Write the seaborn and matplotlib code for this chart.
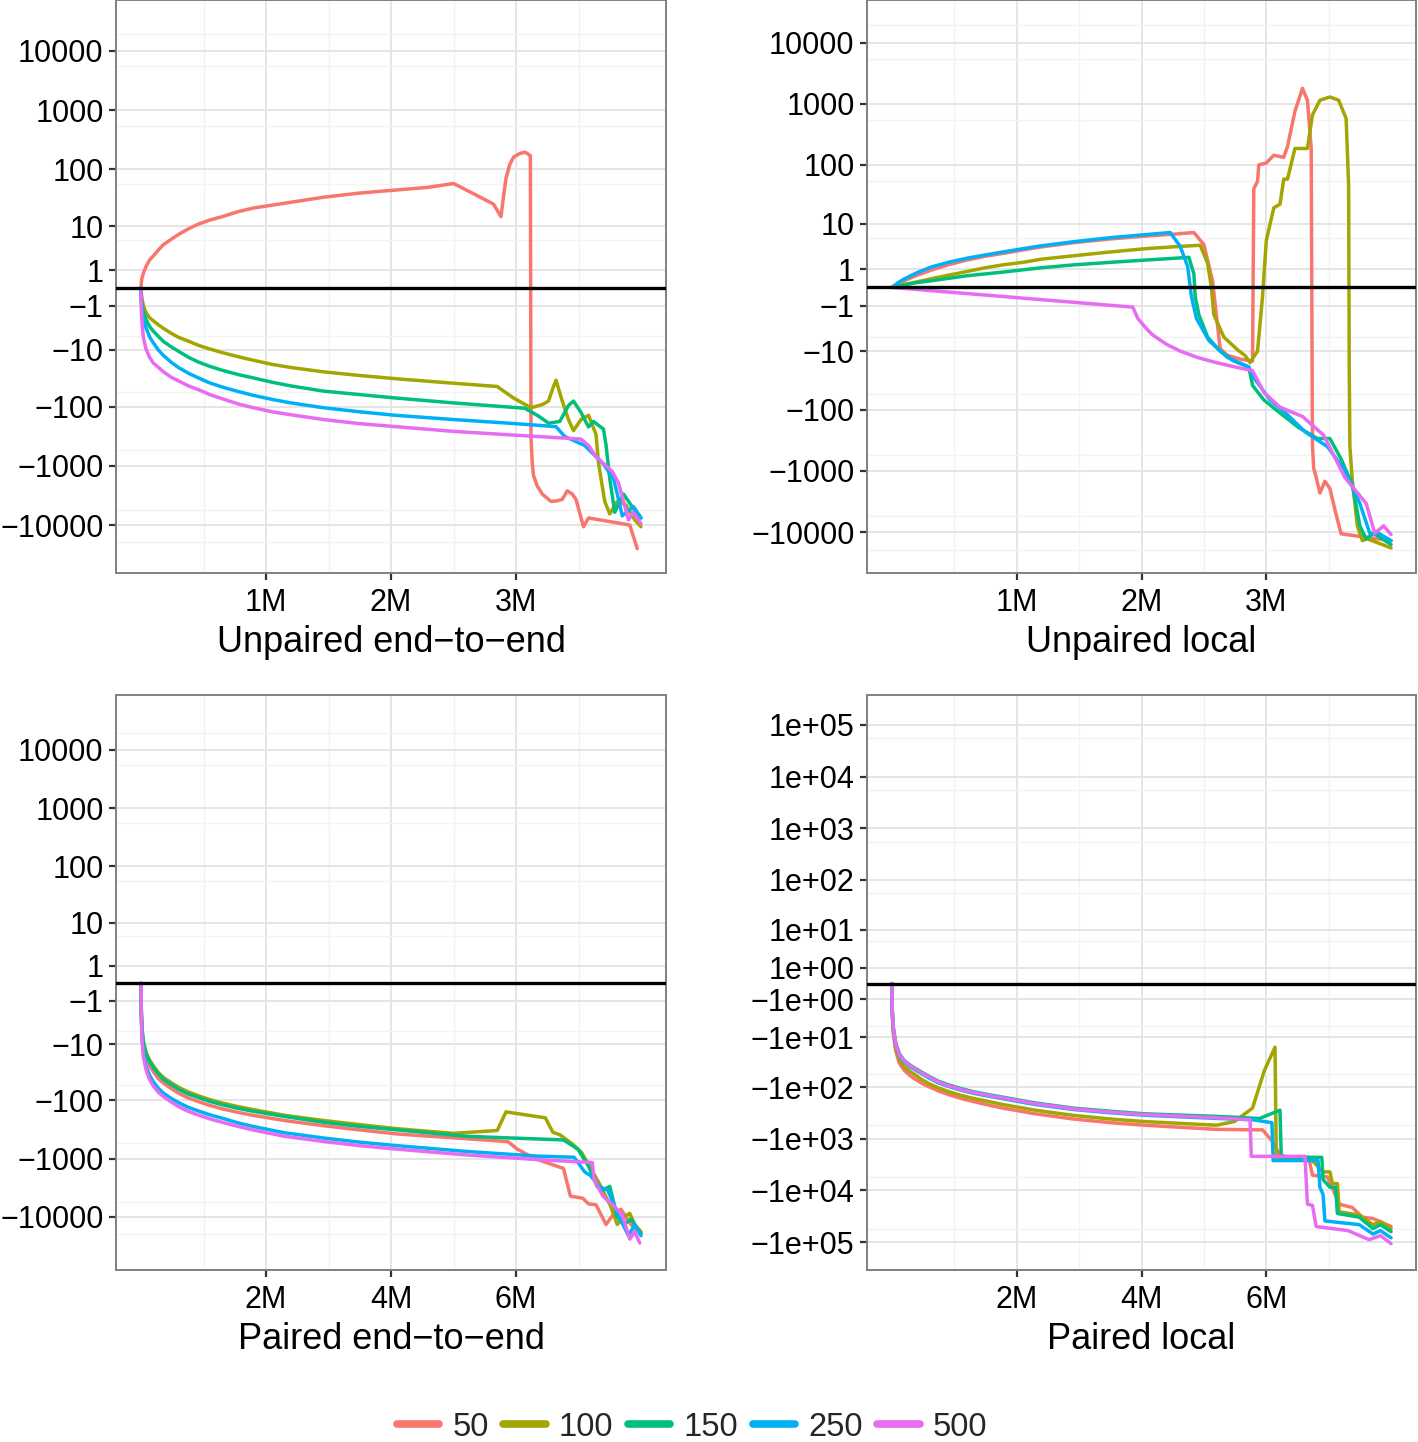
import numpy as np
import pandas as pd
import matplotlib
matplotlib.use('Agg')
import matplotlib.pyplot as plt
from matplotlib.lines import Line2D
import seaborn as sns

# ---------------- data (x in millions of reads, y = score difference) ----------------
lengths = ['50', '100', '150', '250', '500']
colors = ['#F8766D', '#A3A500', '#00BF7D', '#00B0F6', '#E76BF3']

# Unpaired end-to-end
ue_x50 = [0, 0.005, 0.02, 0.04, 0.07, 0.1, 0.14, 0.18, 0.24, 0.3, 0.38, 0.46, 0.55, 0.65, 0.78, 0.9, 1.05,
          1.2, 1.46, 1.75, 2.04, 2.3, 2.5, 2.65, 2.82, 2.88, 2.9, 2.92, 2.95, 2.98, 3.03, 3.07, 3.09, 3.11,
          3.115, 3.12, 3.13, 3.14, 3.17, 3.21, 3.28, 3.33, 3.37, 3.41, 3.45, 3.48, 3.54, 3.58, 3.91, 3.97]
ue_y50 = [0, 0.4, 0.8, 1.3, 2.0, 2.5, 3.4, 4.4, 5.6, 7, 9, 11, 13, 15, 18.5, 21.4, 24,
          27, 33, 39, 44, 49, 57, 39, 25, 15, 34, 70, 120, 160, 185, 195, 185, 173,
          170, -340, -900, -1450, -2200, -3000, -4000, -3900, -3700, -2650, -3000, -3700, -10700, -7600,
          -10000, -25000]
ue_x100 = [0, 0.003, 0.01, 0.02, 0.04, 0.07, 0.1, 0.14, 0.18, 0.24, 0.3, 0.38, 0.46, 0.55, 0.65, 0.78, 0.9,
           1.05, 1.2, 1.46, 1.75, 2.04, 2.4, 2.85, 2.98, 3.12, 3.21, 3.26, 3.3, 3.32, 3.37, 3.42, 3.46,
           3.52, 3.58, 3.64, 3.66, 3.71, 3.75, 3.81, 3.88, 3.95, 4.0]
ue_y100 = [0, -0.26, -0.6, -1.0, -1.6, -2.2, -2.6, -3.2, -3.8, -4.8, -5.8, -6.9, -8.3, -9.7, -11.3, -13.5,
           -15.6, -18.5, -21, -25, -29, -33, -38, -45, -71, -104, -92, -80, -45, -35, -80, -165, -255,
           -165, -140, -295, -900, -4000, -6500, -4000, -4600, -8200, -10700]
ue_x150 = [0, 0.003, 0.01, 0.02, 0.04, 0.07, 0.1, 0.14, 0.18, 0.24, 0.3, 0.38, 0.46, 0.55, 0.65, 0.78, 0.9,
           1.05, 1.2, 1.46, 1.75, 2.04, 2.5, 3.07, 3.18, 3.26, 3.35, 3.42, 3.46, 3.52, 3.58, 3.62, 3.70,
           3.72, 3.75, 3.79, 3.86, 3.94, 4.0]
ue_y150 = [0, -0.6, -1.1, -1.6, -2.4, -3.5, -4.4, -5.6, -7, -8.8, -10.7, -13.8, -16.8, -20, -23.5, -28,
           -32, -38, -44, -54, -62, -71, -86, -106, -144, -190, -178, -95, -80, -125, -220, -178, -240,
           -445, -1650, -6100, -3000, -5300, -7600]
ue_x250 = [0, 0.003, 0.01, 0.02, 0.04, 0.07, 0.1, 0.14, 0.18, 0.24, 0.3, 0.38, 0.46, 0.55, 0.65, 0.78, 0.9,
           1.05, 1.2, 1.46, 1.75, 2.04, 2.5, 3.0, 3.32, 3.39, 3.55, 3.70, 3.78, 3.81, 3.85, 3.94, 4.0]
ue_y250 = [0, -0.8, -1.5, -2.3, -3.7, -5.8, -7.5, -10.2, -12.8, -16.8, -21, -26.5, -32, -39, -46, -55,
           -64, -75, -86, -104, -122, -140, -165, -194, -218, -320, -455, -940, -1650, -3000, -7000,
           -4900, -7600]
ue_x500 = [0, 0.003, 0.01, 0.02, 0.04, 0.07, 0.1, 0.14, 0.18, 0.24, 0.3, 0.38, 0.46, 0.55, 0.65, 0.78, 0.9,
           1.05, 1.2, 1.46, 1.75, 2.04, 2.5, 3.04, 3.52, 3.58, 3.64, 3.77, 3.82, 3.90, 3.94, 4.0]
ue_y500 = [0, -1.5, -3.5, -6, -9.7, -14, -17.6, -21, -25, -31, -36, -44, -51, -62, -73, -90, -104,
           -122, -137, -165, -194, -218, -262, -308, -354, -455, -700, -1250, -1950, -8200, -6100, -9500]

# Unpaired local
ul_x50 = [0, 0.05, 0.1, 0.2, 0.31, 0.45, 0.6, 0.75, 0.89, 1.05, 1.2, 1.46, 1.75, 2.03, 2.25, 2.42, 2.5,
          2.57, 2.63, 2.69, 2.8, 2.89, 2.9, 2.93, 2.94, 3.0, 3.06, 3.14, 3.17, 3.23, 3.29, 3.33, 3.36,
          3.37, 3.38, 3.40, 3.43, 3.47, 3.51, 3.56, 3.6, 4.0]
ul_y50 = [0, 0.15, 0.29, 0.58, 0.9, 1.34, 1.8, 2.24, 2.6, 3.1, 3.6, 4.4, 5.2, 5.9, 6.4, 6.9, 4.0,
          0.26, -9, -12, -14, -15, 40, 53, 100, 107, 144, 133, 200, 760, 1800, 1150, 190,
          -370, -900, -1280, -2300, -1480, -1950, -5200, -10700, -13800]
ul_x100 = [0, 0.05, 0.1, 0.2, 0.31, 0.45, 0.6, 0.75, 0.89, 1.05, 1.2, 1.46, 1.75, 2.03, 2.25, 2.47, 2.53,
           2.56, 2.58, 2.66, 2.77, 2.83, 2.87, 2.93, 2.97, 3.0, 3.06, 3.11, 3.14, 3.17, 3.23, 3.33, 3.37,
           3.43, 3.51, 3.58, 3.64, 3.66, 3.665, 3.67, 3.69, 3.73, 3.77, 3.81, 4.0]
ul_y100 = [0, 0.07, 0.12, 0.23, 0.38, 0.58, 0.82, 1.1, 1.34, 1.57, 1.9, 2.3, 2.8, 3.3, 3.6, 3.9, 1.5,
           0, -1.8, -5.5, -9.5, -12, -16, -10, -0.4, 4.8, 19, 22, 58, 58, 186, 186, 660,
           1150, 1300, 1150, 580, 46, -22, -400, -1480, -7900, -13800, -12900, -18200]
ul_x150 = [0, 0.1, 0.2, 0.31, 0.6, 0.89, 1.2, 1.46, 1.75, 2.03, 2.38, 2.42, 2.43, 2.46, 2.53, 2.63, 2.74,
           2.86, 2.89, 2.98, 3.11, 3.26, 3.41, 3.51, 3.6, 3.69, 3.75, 3.8, 3.86, 4.0]
ul_y150 = [0, 0.1, 0.2, 0.28, 0.55, 0.78, 1.1, 1.34, 1.57, 1.8, 2.1, 0.65, -0.4, -1.8, -5.5, -10, -15,
           -19, -39, -68, -112, -195, -295, -295, -640, -1700, -7900, -12900, -10500, -16000]
ul_x250 = [0, 0.05, 0.1, 0.2, 0.31, 0.45, 0.6, 0.75, 0.89, 1.05, 1.2, 1.46, 1.75, 2.0, 2.23, 2.31, 2.37,
           2.4, 2.44, 2.54, 2.69, 2.86, 2.9, 3.03, 3.17, 3.31, 3.49, 3.63, 3.75, 3.83, 3.9, 4.0]
ul_y250 = [0, 0.2, 0.38, 0.74, 1.14, 1.57, 2.0, 2.4, 2.8, 3.3, 3.8, 4.6, 5.5, 6.2, 6.9, 3.7, 1.2,
           -0.4, -2.2, -6.4, -13, -19, -29, -68, -120, -228, -400, -980, -3400, -10500, -10500, -13800]
ul_x500 = [0, 1.93, 1.97, 2.03, 2.09, 2.2, 2.31, 2.45, 2.6, 2.75, 2.89, 2.98, 3.11, 3.29, 3.46, 3.63, 3.8,
           3.87, 3.94, 4.0]
ul_y500 = [0, -1.1, -2.2, -3.5, -5, -7.5, -10, -13, -16, -19, -22, -51, -90, -128, -260, -1280, -3400,
           -10500, -7900, -11000]

# Paired end-to-end
pe_x50 = [0, 0.005, 0.016, 0.04, 0.08, 0.13, 0.2, 0.28, 0.36, 0.48, 0.6, 0.75, 0.93, 1.1, 1.3, 1.55, 1.79,
          2.3, 2.93, 3.5, 4.1, 5.87, 6.02, 6.3, 6.76, 6.87, 7.07, 7.16, 7.28, 7.44, 7.56, 7.68, 7.84, 8.0]
pe_y50 = [0, -2.2, -5.9, -11, -17.6, -24, -32, -42, -50, -62, -75, -90, -106, -122, -140, -161, -181,
          -223, -274, -323, -379, -512, -690, -1000, -1480, -4400, -4800, -6000, -6200, -13500, -9000,
          -7400, -13500, -19500]
pe_x100 = [0, 0.005, 0.016, 0.04, 0.08, 0.13, 0.2, 0.28, 0.36, 0.48, 0.6, 0.75, 0.93, 1.1, 1.3, 1.55, 1.79,
           2.3, 2.93, 3.5, 4.1, 5.0, 5.7, 5.84, 6.47, 6.59, 6.7, 6.9, 7.05, 7.16, 7.33, 7.51, 7.62, 7.73,
           7.82, 7.9, 8.0]
pe_y100 = [0, -1.8, -5, -9, -14, -19, -25, -33, -40, -49, -59, -71, -84, -97, -111, -128, -144,
           -181, -223, -262, -308, -370, -330, -158, -200, -355, -390, -560, -790, -1260, -2650, -6400,
           -13500, -10000, -8700, -13500, -18000]
pe_x150 = [0, 0.005, 0.016, 0.04, 0.08, 0.13, 0.2, 0.28, 0.36, 0.48, 0.6, 0.75, 0.93, 1.1, 1.3, 1.55, 1.79,
           2.3, 2.93, 3.5, 4.1, 5.22, 6.76, 6.99, 7.16, 7.3, 7.39, 7.5, 7.62, 7.73, 7.84, 8.0]
pe_y150 = [0, -1.95, -5.3, -9.7, -15, -20, -27, -35, -43, -53, -64, -77, -90, -104, -119, -137, -154,
           -190, -239, -281, -323, -416, -480, -690, -1350, -3050, -3500, -3000, -10000, -13500, -11000,
           -19500]
pe_x250 = [0, 0.005, 0.016, 0.04, 0.08, 0.13, 0.2, 0.28, 0.36, 0.48, 0.6, 0.75, 0.93, 1.1, 1.3, 1.55, 1.79,
           2.3, 2.93, 3.5, 4.1, 5.22, 6.36, 6.93, 7.1, 7.19, 7.33, 7.47, 7.62, 7.8, 7.9, 8.0]
pe_y250 = [0, -2.5, -7.3, -15, -25, -35, -48, -62, -75, -92, -109, -131, -154, -177, -203, -244, -281,
           -362, -446, -524, -602, -758, -911, -950, -1700, -1950, -3000, -3500, -8700, -21000, -13500,
           -21000]
pe_x500 = [0, 0.005, 0.016, 0.04, 0.08, 0.13, 0.2, 0.28, 0.36, 0.48, 0.6, 0.75, 0.93, 1.1, 1.3, 1.55, 1.79,
           2.3, 2.93, 3.5, 4.1, 5.22, 6.36, 7.22, 7.25, 7.39, 7.56, 7.7, 7.82, 7.9, 7.98]
pe_y500 = [0, -2.8, -8.3, -17.6, -29, -42, -57, -73, -86, -106, -128, -154, -181, -208, -239, -281, -323,
           -416, -512, -602, -691, -870, -1046, -1170, -2300, -4400, -6400, -9300, -24000, -18000, -28000]

# Paired local
pl_x50 = [0, 0.005, 0.02, 0.06, 0.12, 0.2, 0.28, 0.35, 0.48, 0.6, 0.75, 0.91, 1.1, 1.3, 1.55, 1.78, 2.3,
          2.91, 3.5, 4.06, 5.2, 5.94, 6.11, 6.22, 6.69, 6.74, 6.98, 7.17, 7.38, 7.54, 7.71, 8.0]
pl_y50 = [0, -2.9, -7.9, -19, -34, -47, -58, -67, -84, -99, -119, -140, -165, -190, -223, -256, -330,
          -416, -489, -549, -660, -675, -1170, -2100, -2650, -5100, -5500, -18500, -21500, -33000, -35000,
          -50000]
pl_x100 = [0, 0.005, 0.02, 0.06, 0.12, 0.2, 0.28, 0.35, 0.48, 0.6, 0.75, 0.91, 1.1, 1.3, 1.55, 1.78, 2.3,
           2.91, 3.5, 4.06, 5.2, 5.49, 5.78, 5.97, 6.14, 6.16, 6.69, 6.91, 7.02, 7.06, 7.14, 7.17, 7.49,
           7.71, 7.83, 8.0]
pl_y100 = [0, -2.5, -7, -16, -29, -40, -48, -55, -71, -86, -104, -122, -144, -165, -190, -218, -281,
           -354, -416, -467, -549, -465, -255, -47, -16, -2300, -2300, -4400, -4400, -7400, -7400, -26000,
           -30000, -46000, -40000, -55000]
pl_x150 = [0, 0.005, 0.02, 0.06, 0.12, 0.2, 0.28, 0.35, 0.48, 0.6, 0.75, 0.91, 1.1, 1.3, 1.55, 1.78, 2.3,
           2.91, 3.5, 4.06, 5.2, 5.89, 6.22, 6.24, 6.89, 6.91, 7.02, 7.11, 7.14, 7.49, 7.71, 7.83, 8.0]
pl_y150 = [0, -2.2, -5.8, -13, -22, -30, -36, -41, -51, -62, -77, -90, -106, -122, -140, -157, -203,
           -256, -294, -330, -370, -406, -280, -2300, -2300, -6200, -8700, -8700, -28000, -33000, -55000,
           -46000, -63000]
pl_x250 = [0, 0.005, 0.02, 0.06, 0.12, 0.2, 0.28, 0.35, 0.48, 0.6, 0.75, 0.91, 1.1, 1.3, 1.55, 1.78, 2.3,
           2.91, 3.5, 4.06, 5.2, 5.78, 6.09, 6.11, 6.83, 6.86, 6.91, 6.94, 7.49, 7.71, 7.83, 8.0]
pl_y250 = [0, -2.3, -6.2, -14, -24, -32, -39, -44, -55, -67, -83, -97, -114, -131, -150, -168, -218,
           -272, -315, -352, -405, -430, -490, -2650, -2650, -8700, -12000, -39000, -46000, -70000,
           -60000, -83000]
pl_x500 = [0, 0.005, 0.02, 0.06, 0.12, 0.2, 0.28, 0.35, 0.48, 0.6, 0.75, 0.91, 1.1, 1.3, 1.55, 1.78, 2.3,
           2.91, 3.5, 4.06, 5.2, 5.74, 5.76, 6.62, 6.66, 6.74, 6.8, 7.31, 7.65, 7.83, 8.0]
pl_y500 = [0, -2.2, -6, -13.5, -23, -31, -37, -42, -53, -64, -80, -94, -110, -126, -145, -162, -210,
           -264, -305, -342, -392, -430, -2200, -2200, -18500, -19500, -50000, -60000, -90000, -75000,
           -107000]

titles = ['Unpaired end\u2212to\u2212end', 'Unpaired local', 'Paired end\u2212to\u2212end', 'Paired local']

ticks_a = [10000, 1000, 100, 10, 1, -1, -10, -100, -1000, -10000]
labels_a = ['10000', '1000', '100', '10', '1', '\u22121', '\u221210', '\u2212100', '\u22121000', '\u221210000']
minor_a = [19500, 5500, 550, 55, 5.5, -5.5, -55, -550, -5500, -19500]
ticks_b = [1e5, 1e4, 1e3, 1e2, 1e1, 1, -1, -1e1, -1e2, -1e3, -1e4, -1e5]
labels_b = ['1e+05', '1e+04', '1e+03', '1e+02', '1e+01', '1e+00',
            '\u22121e+00', '\u22121e+01', '\u22121e+02', '\u22121e+03', '\u22121e+04', '\u22121e+05']
minor_b = [55000, 5500, 550, 55, 5.5, -5.5, -55, -550, -5500, -55000]


def fwd(v):
    v = np.asarray(v, dtype=float)
    return np.sign(v) * np.log10(1 + np.abs(v))


def inv(t):
    t = np.asarray(t, dtype=float)
    return np.sign(t) * (10 ** np.abs(t) - 1)


def make_df(xs, ys):
    parts = []
    for lab, x, y in zip(lengths, xs, ys):
        parts.append(pd.DataFrame({'x': x, 'y': y, 'len': lab}))
    return pd.concat(parts, ignore_index=True)


panels = [
    make_df([ue_x50, ue_x100, ue_x150, ue_x250, ue_x500], [ue_y50, ue_y100, ue_y150, ue_y250, ue_y500]),
    make_df([ul_x50, ul_x100, ul_x150, ul_x250, ul_x500], [ul_y50, ul_y100, ul_y150, ul_y250, ul_y500]),
    make_df([pe_x50, pe_x100, pe_x150, pe_x250, pe_x500], [pe_y50, pe_y100, pe_y150, pe_y250, pe_y500]),
    make_df([pl_x50, pl_x100, pl_x150, pl_x250, pl_x500], [pl_y50, pl_y100, pl_y150, pl_y250, pl_y500]),
]

# ---------------- figure ----------------
sns.set_theme(style='white')
plt.rcParams['font.family'] = ['Liberation Sans', 'DejaVu Sans']

W, H = 1418, 1442
fig = plt.figure(figsize=(W / 100, H / 100), dpi=100)

boxes = [(116, 0, 666, 573), (867, 0, 1416, 573), (116, 695, 666, 1270), (867, 695, 1416, 1270)]
ylims = [(-4.81, 4.86), (-4.67, 4.70), (-4.91, 4.94), (-5.54, 5.58)]
pal = dict(zip(lengths, colors))

for i, (df, box) in enumerate(zip(panels, boxes)):
    l, t, r, b = box
    ax = fig.add_axes([l / W, 1 - b / H, (r - l) / W, (b - t) / H])
    ax.set_yscale('function', functions=(fwd, inv))
    sns.lineplot(data=df, x='x', y='y', hue='len', hue_order=lengths, palette=pal,
                 sort=False, estimator=None, legend=False, linewidth=2.5, ax=ax, zorder=2)
    ax.axhline(0, color='black', lw=2.4, zorder=3)

    if i < 2:
        ax.set_xlim(-0.2, 4.2)
        ax.set_xticks([1, 2, 3])
        ax.set_xticklabels(['1M', '2M', '3M'])
        ax.set_xticks([0.5, 1.5, 2.5, 3.5], minor=True)
    else:
        ax.set_xlim(-0.4, 8.4)
        ax.set_xticks([2, 4, 6])
        ax.set_xticklabels(['2M', '4M', '6M'])
        ax.set_xticks([1, 3, 5, 7], minor=True)

    if i < 3:
        ax.set_yticks(ticks_a)
        ax.set_yticklabels(labels_a)
        ax.set_yticks(minor_a, minor=True)
    else:
        ax.set_yticks(ticks_b)
        ax.set_yticklabels(labels_b)
        ax.set_yticks(minor_b, minor=True)
    lo, hi = ylims[i]
    ax.set_ylim(float(inv(lo)), float(inv(hi)))

    ax.grid(which='major', color='#E5E5E5', lw=1.4)
    ax.grid(which='minor', color='#F3F3F3', lw=1.0)
    ax.set_axisbelow(True)
    for s in ax.spines.values():
        s.set_color('#808080')
        s.set_linewidth(1.4)
    ax.tick_params(which='major', length=5, width=1.6, color='#333333', pad=4,
                   labelsize=22, labelcolor='black', left=True, bottom=True)
    ax.tick_params(axis='x', which='major', pad=6)
    ax.tick_params(which='minor', length=0)
    ax.set_ylabel('')
    ax.set_xlabel(titles[i], fontsize=26, color='black', labelpad=5)

handles = [Line2D([0], [0], color=c, lw=5.5) for c in colors]
fig.legend(handles, lengths, loc='center', bbox_to_anchor=(692 / W, 1 - 1427 / H), ncol=5,
           frameon=False, fontsize=23.5, handlelength=1.3, handletextpad=0.4, columnspacing=0.45)

fig.savefig('out.png', dpi=100)
